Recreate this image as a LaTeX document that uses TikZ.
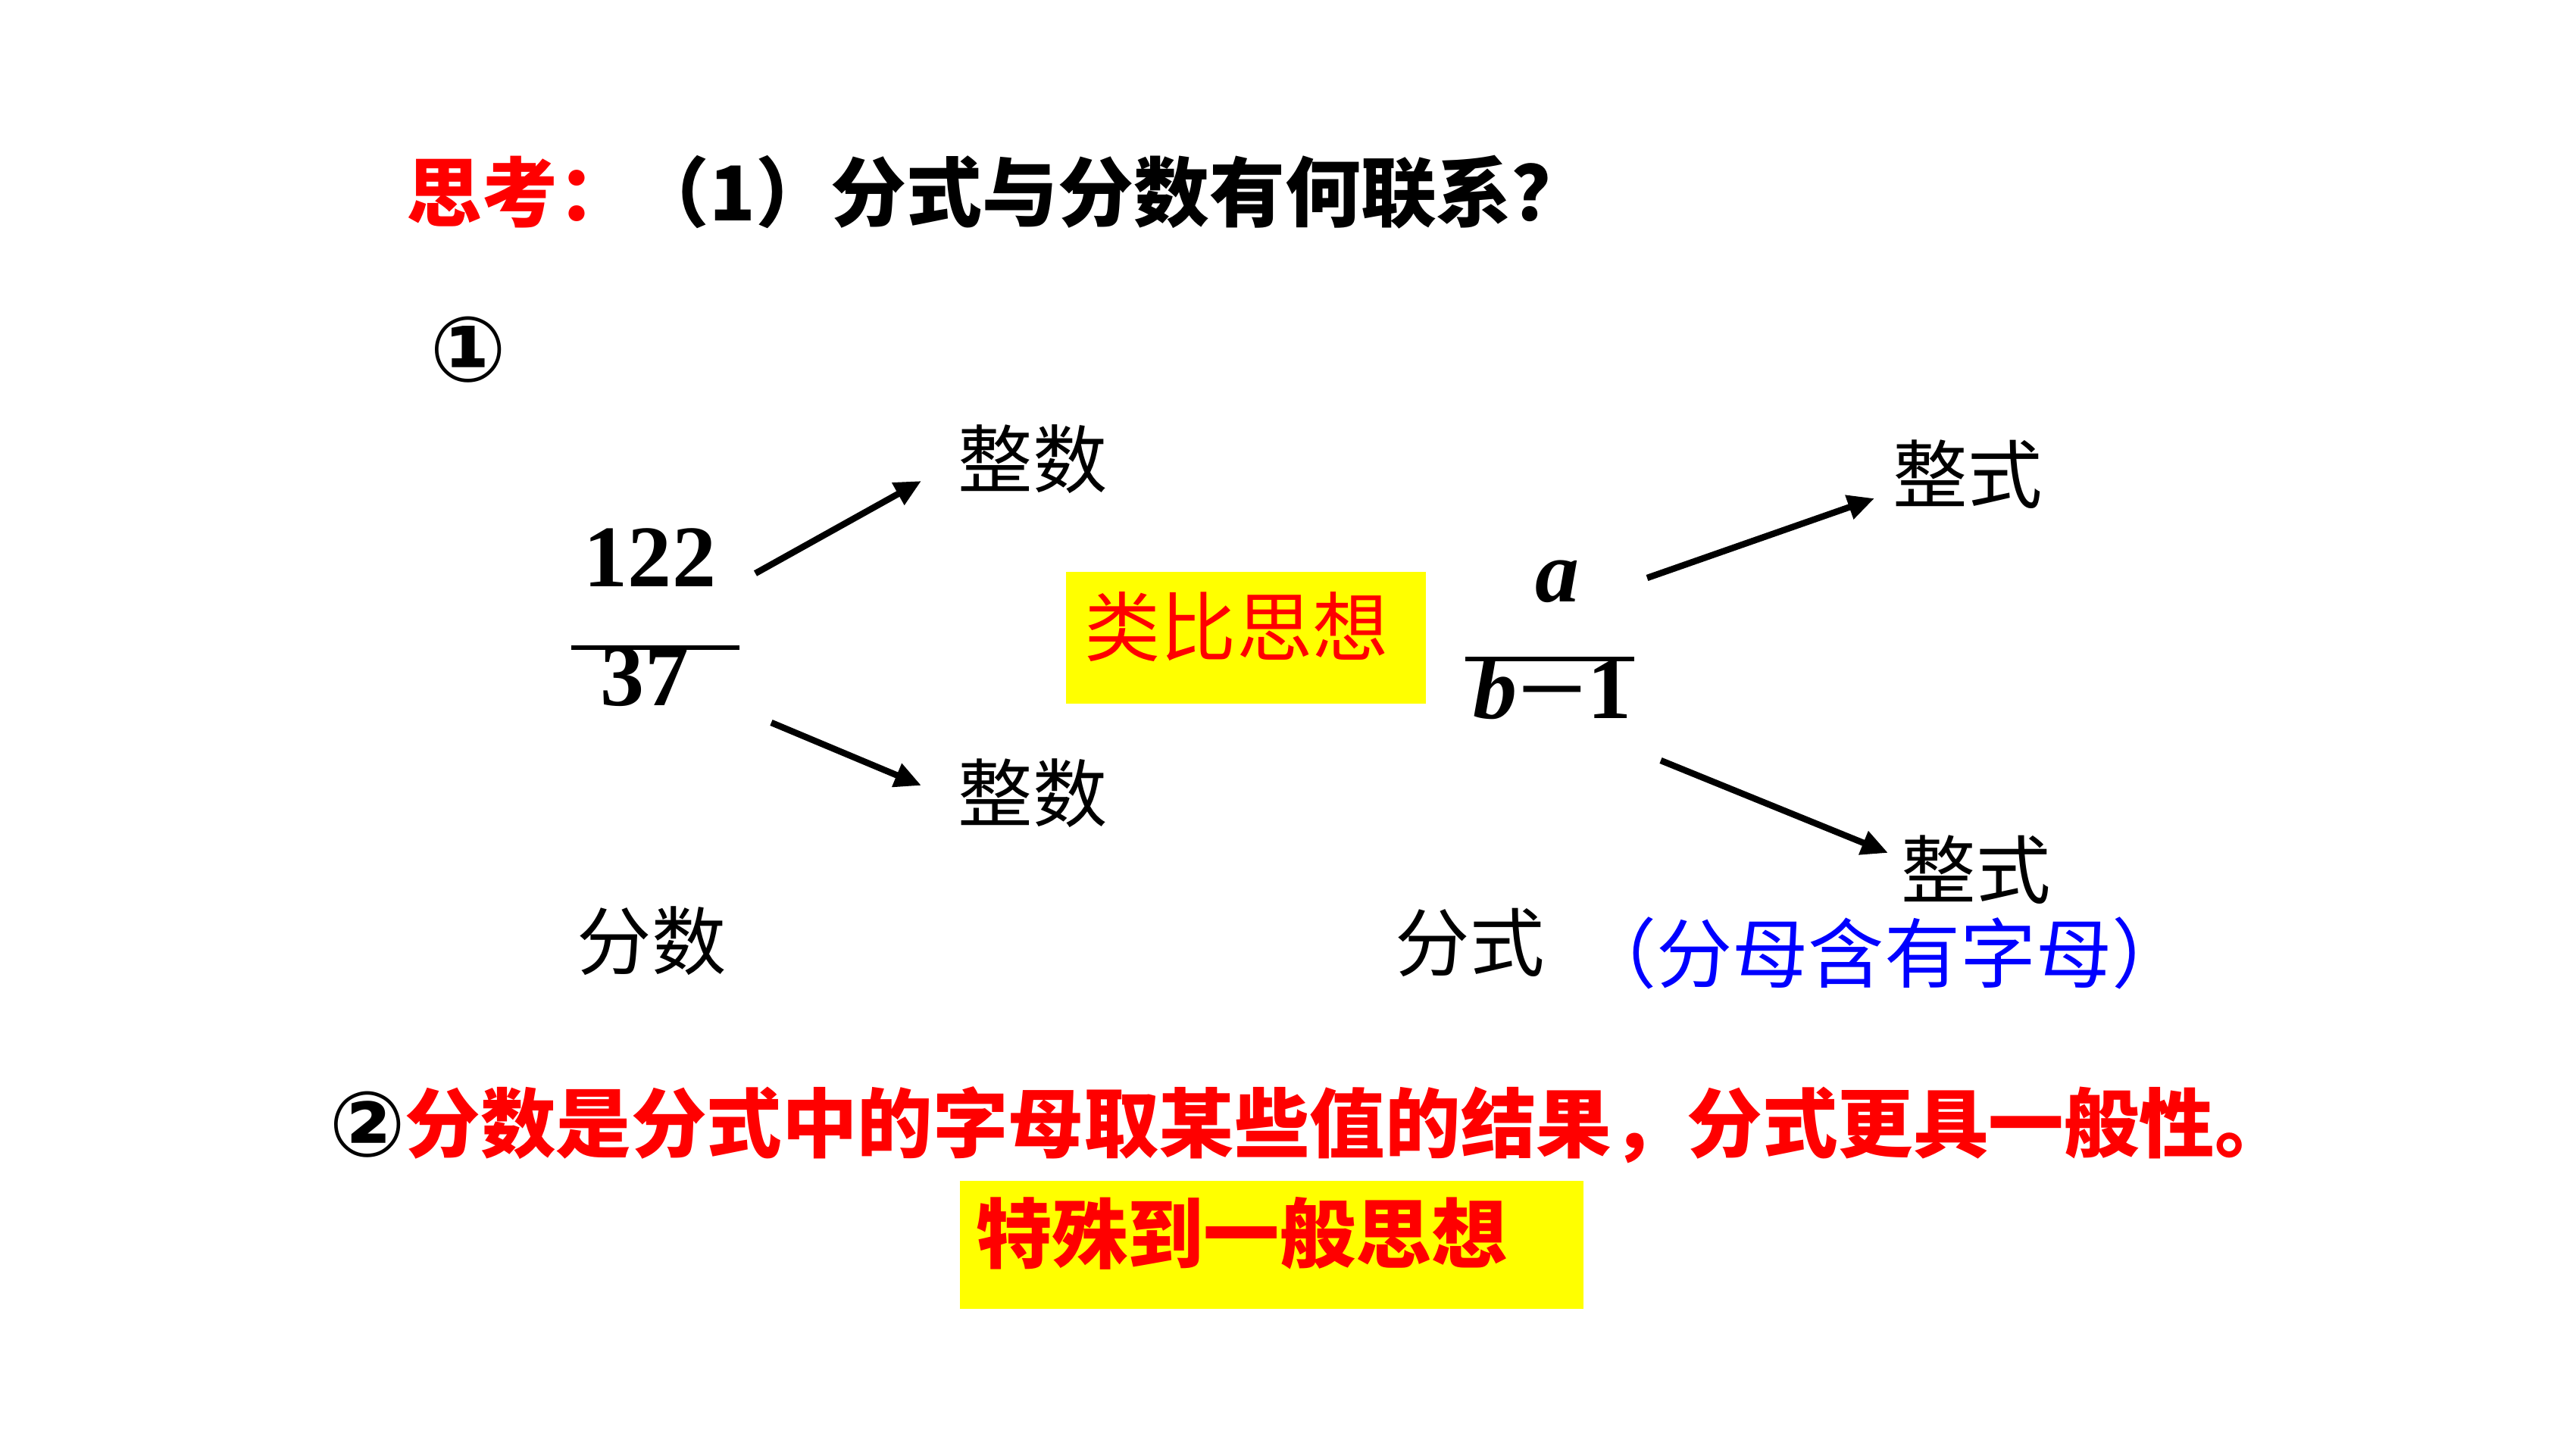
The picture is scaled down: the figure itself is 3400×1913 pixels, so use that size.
\documentclass[tikz,border=0pt]{standalone}
\usepackage{graphicx}
\usepackage{fontspec}
\setmainfont{Liberation Serif}
\newfontfamily\cjk{Noto Sans CJK SC}
\newfontfamily\symf{DejaVu Sans}
\usetikzlibrary{arrows.meta}
\definecolor{pptred}{RGB}{255,0,0}
\definecolor{pptblue}{RGB}{0,0,255}
\definecolor{pptyellow}{RGB}{255,255,0}
\begin{document}
\begin{tikzpicture}[x=0.01cm,y=-0.01cm,
  lbl/.style={font=\cjk\fontsize{28}{34}\selectfont, inner sep=0pt},
  titletxt/.style={font=\cjk\bfseries\fontsize{28.4}{34}\selectfont, inner sep=0pt, anchor=west},
  redline/.style={font=\cjk\bfseries\fontsize{28.3}{34}\selectfont, inner sep=0pt, anchor=west, text=pptred},
  boxtxt/.style={font=\cjk\fontsize{28.5}{34}\selectfont, inner sep=0pt, text=pptred},
  boxtxtb/.style={font=\cjk\bfseries\fontsize{28.5}{34}\selectfont, inner sep=0pt, text=pptred},
  circ/.style={font=\symf\bfseries\fontsize{34}{38}\selectfont, inner sep=0pt},
  mathf/.style={font=\bfseries\fontsize{33}{40}\selectfont, inner sep=0pt},
  fracline/.style={line width=1.7pt},
  arr/.style={line width=2.4pt, -{Triangle[length=10pt,width=9pt]}},
  ybox/.style={fill=pptyellow, draw=none, inner sep=0pt}
]
\useasboundingbox (0,0) rectangle (3400,1913);
\fill[white] (0,0) rectangle (3400,1913);

% title
\node[titletxt] (title) at (536,254) {{\color{pptred}思考：}（1）分式与分数有何联系？};

% circled 1
\node[circ] (c1) at (618,462) {①};

% left fraction
\node[mathf] (n122) at (858,736) {122};
\coordinate (fl1a) at (754,855);
\coordinate (fl1b) at (976,855);
\draw[fracline] (fl1a) -- (fl1b);
\node[mathf] (n37) at (851,894) {37};

% left arrows
\coordinate (la1) at (997,757);
\coordinate (lb1) at (1216,635);
\draw[arr] (la1) -- (lb1);
\coordinate (la2) at (1018,954);
\coordinate (lb2) at (1216,1037);
\draw[arr] (la2) -- (lb2);

\node[lbl] (zs1) at (1363,606) {整数};
\node[lbl] (zs2) at (1363,1047) {整数};

% yellow box 1
\node[ybox, minimum width=4.75cm, minimum height=1.74cm] (box1) at (1644.5,842) {};
\node[boxtxt] (t1) at (1632,827) {类比思想};

% right fraction
\node[mathf] (na) at (2055,768) {\itshape a};
\coordinate (fl2a) at (1934,870);
\coordinate (fl2b) at (2157,870);
\draw[fracline] (fl2a) -- (fl2b);
\node[mathf] (nb) at (2049,909) {{\itshape b}\scalebox{1.4}[1]{−}1};

% right arrows
\coordinate (ra1) at (2174,763);
\coordinate (rb1) at (2474,658);
\draw[arr] (ra1) -- (rb1);
\coordinate (ra2) at (2192,1004);
\coordinate (rb2) at (2492,1126);
\draw[arr] (ra2) -- (rb2);

\node[lbl] (zsh1) at (2597,626) {整式};
\node[lbl] (zsh2) at (2608,1148) {整式};

% bottom labels
\node[lbl] (fs) at (860,1242) {分数};
\node[lbl] (fsh) at (1940,1244) {分式};
\node[lbl, font=\cjk\fontsize{28.5}{34}\selectfont, text=pptblue] (note) at (2487,1258) {（分母含有字母）};

% conclusion
\node[circ] (c2) at (485,1485) {②};
\node[redline] (concl) at (534,1485) {分数是分式中的字母取某些值的结果，分式更具一般性。};

% yellow box 2
\node[ybox, minimum width=8.23cm, minimum height=1.69cm] (box2) at (1678.5,1643.5) {};
\node[boxtxtb] (t2) at (1639,1628) {特殊到一般思想};
\end{tikzpicture}
\end{document}
